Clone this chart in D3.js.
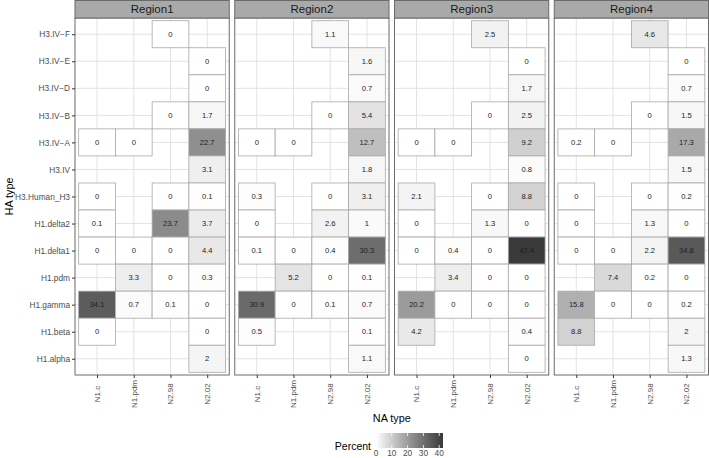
<!DOCTYPE html>
<html><head><meta charset="utf-8">
<script src="https://cdn.jsdelivr.net/npm/d3@7/dist/d3.min.js"></script>
<style>body{margin:0;background:#fff}svg{display:block;font-family:"Liberation Sans",Arial,sans-serif}</style>
</head><body><svg id="c" width="709" height="458"></svg>
<script>
const regions = ["Region1","Region2","Region3","Region4"];
const haTypes = ["H3.IV\u2212F","H3.IV\u2212E","H3.IV\u2212D","H3.IV\u2212B","H3.IV\u2212A","H3.IV","H3.Human_H3","H1.delta2","H1.delta1","H1.pdm","H1.gamma","H1.beta","H1.alpha"];
const naTypes = ["N1.c","N1.pdm","N2.98","N2.02"];
const legendTicks = [0,10,20,30,40];
// rows follow haTypes, columns follow naTypes; null = no tile
const region1 = [
 [null,null,0,null],[null,null,null,0],[null,null,null,0],[null,null,0,1.7],
 [0,0,null,22.7],[null,null,null,3.1],[0,null,0,0.1],[0.1,null,23.7,3.7],
 [0,0,0,4.4],[null,3.3,0,0.3],[34.1,0.7,0.1,0],[0,null,null,0],[null,null,null,2]];
const region2 = [
 [null,null,1.1,null],[null,null,null,1.6],[null,null,null,0.7],[null,null,0,5.4],
 [0,0,null,12.7],[null,null,null,1.8],[0.3,null,0,3.1],[0,null,2.6,1],
 [0.1,0,0.4,30.3],[null,5.2,0,0.1],[30.9,0,0.1,0.7],[0.5,null,null,0.1],[null,null,null,1.1]];
const region3 = [
 [null,null,2.5,null],[null,null,null,0],[null,null,null,1.7],[null,null,0,2.5],
 [0,0,null,9.2],[null,null,null,0.8],[2.1,null,0,8.8],[0,null,1.3,0],
 [0,0.4,0,42.4],[null,3.4,0,0],[20.2,0,0,0],[4.2,null,null,0.4],[null,null,null,0]];
const region4 = [
 [null,null,4.6,null],[null,null,null,0],[null,null,null,0.7],[null,null,0,1.5],
 [0.2,0,null,17.3],[null,null,null,1.5],[0,null,0,0.2],[0,null,1.3,0],
 [0,0,2.2,34.8],[null,7.4,0.2,0],[15.8,0,0,0.2],[8.8,null,null,2],[null,null,null,1.3]];
const regionValues = [region1, region2, region3, region4];

(function(){
const svg = d3.select("#c");
const maxV = d3.max(regionValues.flat(2).filter(v => v != null));
const color = d3.scaleLinear().domain([0, maxV]).range(["#ffffff","#3a3a3a"]).interpolate(d3.interpolateLab);

const pLeft = 75, pRight = 708.5, gap = 5.5, pTop = 18, pBottom = 375, stripTop = 0.5;
const pw = (pRight - pLeft - gap*3) / 4;
const y = d3.scalePoint().domain(haTypes).range([pTop, pBottom]).padding(0.6);
const ystep = y.step();

regions.forEach((r, i) => {
  const x0 = pLeft + i*(pw + gap);
  const x = d3.scalePoint().domain(naTypes).range([x0, x0+pw]).padding(0.6);
  const xstep = x.step();
  const g = svg.append("g");
  g.append("rect").attr("x", x0).attr("y", pTop).attr("width", pw).attr("height", pBottom-pTop).attr("fill", "#fff");
  g.selectAll(".gx").data(naTypes).join("line").attr("x1", d=>x(d)).attr("x2", d=>x(d)).attr("y1", pTop).attr("y2", pBottom).attr("stroke", "#e3e3e3").attr("stroke-width", 1);
  g.selectAll(".gy").data(haTypes).join("line").attr("y1", d=>y(d)).attr("y2", d=>y(d)).attr("x1", x0).attr("x2", x0+pw).attr("stroke", "#e3e3e3").attr("stroke-width", 1);
  const cells = [];
  regionValues[i].forEach((row, ri) => row.forEach((v, ci) => { if (v != null) cells.push({ha: haTypes[ri], na: naTypes[ci], v}); }));
  g.selectAll(".t").data(cells).join("rect")
    .attr("x", d => x(d.na) - xstep/2).attr("y", d => y(d.ha) - ystep/2)
    .attr("width", xstep).attr("height", ystep)
    .attr("fill", d => color(d.v)).attr("stroke", "#a8a8a8").attr("stroke-width", 0.8);
  g.selectAll(".l").data(cells).join("text")
    .attr("x", d => x(d.na)).attr("y", d => y(d.ha)).attr("dy", "0.35em")
    .attr("text-anchor", "middle").attr("font-size", 7.6).attr("fill", "#1e1e1e")
    .text(d => String(d.v));
  g.append("rect").attr("x", x0).attr("y", pTop).attr("width", pw).attr("height", pBottom-pTop).attr("fill", "none").attr("stroke", "#6b6b6b").attr("stroke-width", 1);
  g.append("rect").attr("x", x0).attr("y", stripTop).attr("width", pw).attr("height", pTop-stripTop).attr("fill", "#a9a9a9").attr("stroke", "#6b6b6b").attr("stroke-width", 1);
  g.append("text").attr("x", x0+pw/2).attr("y", (stripTop+pTop)/2).attr("dy", "0.36em").attr("text-anchor", "middle").attr("font-size", 11.5).attr("fill", "#1a1a1a").text(r);
  const xa = g.append("g").attr("transform", `translate(0,${pBottom})`).call(d3.axisBottom(x).tickSize(3).tickFormat(""));
  xa.select(".domain").remove();
  xa.selectAll("line").attr("stroke", "#333");
  g.selectAll(".xl").data(naTypes).join("text")
    .attr("transform", d => `translate(${x(d)},394) rotate(-90)`)
    .attr("text-anchor", "middle").attr("dy", "0.35em").attr("font-size", 8).attr("fill", "#4d4d4d").text(d => d);
  if (i === 0) {
    const ya = g.append("g").attr("transform", `translate(${x0},0)`).call(d3.axisLeft(y).tickSize(3).tickPadding(2));
    ya.select(".domain").remove();
    ya.selectAll("line").attr("stroke", "#333");
    ya.selectAll("text").attr("font-size", 8.3).attr("fill", "#4d4d4d").attr("font-family", "Liberation Sans, Arial, sans-serif");
  }
});

svg.append("text").attr("x", (pLeft+pRight)/2).attr("y", 418).attr("dy", "0.35em").attr("text-anchor", "middle").attr("font-size", 10.8).attr("fill", "#000").text("NA type");
svg.append("text").attr("transform", `translate(9,${(pTop+pBottom)/2}) rotate(-90)`).attr("dy", "0.35em").attr("text-anchor", "middle").attr("font-size", 10.8).attr("fill", "#000").text("HA type");

const lx = d3.scaleLinear().domain([0, maxV]).range([376, 443]);
const defs = svg.append("defs");
const grad = defs.append("linearGradient").attr("id", "lg");
d3.range(0, 1.0001, 0.1).forEach(t => grad.append("stop").attr("offset", t).attr("stop-color", color(t*maxV)));
const ly0 = 433, lh = 15;
svg.append("rect").attr("x", lx(0)).attr("y", ly0).attr("width", lx(maxV)-lx(0)).attr("height", lh).attr("fill", "url(#lg)");
svg.selectAll(".lt").data(legendTicks).join("g").each(function(d){
  const s = d3.select(this);
  s.append("line").attr("x1", lx(d)).attr("x2", lx(d)).attr("y1", ly0).attr("y2", ly0+3).attr("stroke", "#fff").attr("stroke-width", 0.8);
  s.append("line").attr("x1", lx(d)).attr("x2", lx(d)).attr("y1", ly0+lh-3).attr("y2", ly0+lh).attr("stroke", "#fff").attr("stroke-width", 0.8);
  s.append("text").attr("x", lx(d)).attr("y", 456).attr("text-anchor", "middle").attr("font-size", 8.3).attr("fill", "#4d4d4d").text(d);
});
svg.append("text").attr("x", 371).attr("y", 446).attr("dy", "0.35em").attr("text-anchor", "end").attr("font-size", 10.5).attr("fill", "#000").text("Percent");
})();
</script></body></html>
